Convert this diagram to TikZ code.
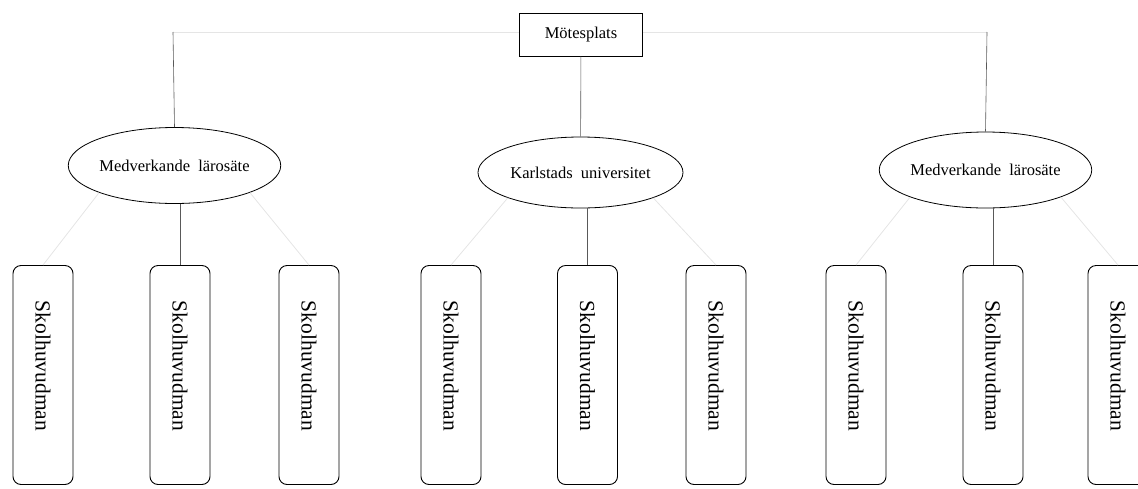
\documentclass[tikz,border=0pt]{standalone}
\usepackage{fontspec}
\setmainfont{Liberation Serif}
\usepackage{xcolor}
\usetikzlibrary{shapes.geometric}

\begin{document}
\begin{tikzpicture}[x=1pt,y=-1pt,
  stem/.style={draw=black!65,line width=0.6pt},
  faint/.style={draw=black!10,line width=0.8pt},
  ell/.style={ellipse,draw,line width=0.8pt,minimum width=205pt,minimum height=76pt,inner sep=0pt,font=\fontsize{16.5}{20}\selectfont},
  skola/.style={draw,rounded corners=8pt,line width=0.9pt,minimum width=60pt,minimum height=219pt,inner sep=0pt,font=\fontsize{21.5}{24}\selectfont}]
  \useasboundingbox (0,0) rectangle (1138,488);

  % top line behind the meeting box
  \coordinate (hl) at (173,32);
  \coordinate (hr) at (987,32);

  \draw (581,34.5) node[draw,fill=white,line width=0.8pt,minimum width=123pt,minimum height=43pt,font=\fontsize{16.5}{19}\selectfont](moet){Mötesplats};

  \draw (174.5,165.5) node[ell](m1){Medverkande\ \ lärosäte};
  \draw (580.5,172.5) node[ell,minimum height=71pt](k){Karlstads\ \ universitet};
  \draw (985.5,170) node[ell](m2){Medverkande\ \ lärosäte};

  \foreach \x/\n in {43/s1,180/s2,309/s3,451/s4,587.5/s5,716/s6,856/s7,993/s8,1118/s9}
    \draw (\x,375) node[skola](\n){\rotatebox{-90}{Skolhuvudman\hspace*{18pt}}};

  \draw[faint] (hl) -- (moet.west |- hl);
  \draw[faint] (hr) -- (moet.east |- hr);
  \draw[stem] (m1.north) -- (hl);
  \draw[stem] (m2.north) -- (hr);
  \draw[stem] (moet) -- (k);

  \draw[stem] (s2.north) -- (s2.north |- m1.south);
  \draw[stem] (s5.north) -- (s5.north |- k.south);
  \draw[stem] (s8.north) -- (s8.north |- m2.south);

  \draw[faint] (m1.south west) -- (s1.north);
  \draw[faint] (m1.south east) -- (s3.north);
  \draw[faint] (k.south west) -- (s4.north);
  \draw[faint] (k.south east) -- (s6.north);
  \draw[faint] (m2.south west) -- (s7.north);
  \draw[faint] (m2.south east) -- (s9.north);
\end{tikzpicture}
\end{document}
